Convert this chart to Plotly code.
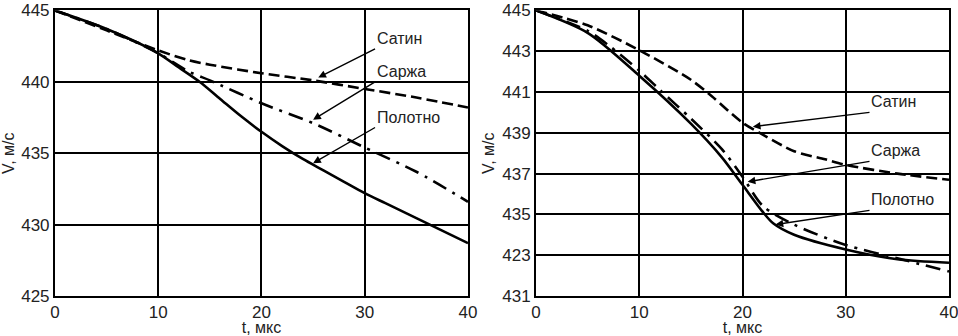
import plotly.graph_objects as go

# ---- Left panel data ----
t_left = [0, 5, 10, 12, 14, 16, 18, 20, 22, 24, 26, 28, 30, 32, 34, 36, 38, 40]
left_polotno = [445, 443.7, 442.0, 441.0, 440.0, 438.8, 437.6, 436.5, 435.5, 434.6, 433.8, 433.0, 432.2, 431.5, 430.8, 430.1, 429.4, 428.7]
t_left_satin = [0, 5, 10, 13, 15, 20, 25, 30, 35, 40]
left_satin = [445, 443.6, 442.2, 441.5, 441.2, 440.6, 440.1, 439.5, 438.9, 438.2]
t_left_sarzha = [0, 5, 10, 13, 15, 20, 25, 30, 35, 40]
left_sarzha = [445, 443.7, 442.0, 440.7, 440.1, 438.5, 437.1, 435.4, 433.7, 431.6]

# ---- Right panel data ----
t_right = [0, 5, 10, 15, 18, 20, 22, 23, 25, 30, 35, 40]
right_polotno = [445, 443.9, 441.8, 439.45, 437.8, 436.45, 435.1, 434.55, 434.0, 433.28, 432.8, 432.63]
t_right_satin = [0, 5, 10, 15, 17, 20, 22, 25, 28, 30, 35, 40]
right_satin = [445, 444.27, 443.05, 441.6, 440.8, 439.5, 438.9, 438.1, 437.7, 437.43, 437.0, 436.7]
t_right_sarzha = [0, 5, 7, 10, 12, 15, 18, 20, 22, 25, 30, 35, 40]
right_sarzha = [445, 444.0, 443.3, 442.05, 441.1, 439.7, 438.2, 436.85, 435.4, 434.5, 433.5, 432.85, 432.2]

x_ticks = [0, 10, 20, 30, 40]
left_y_ticks = [425, 430, 435, 440, 445]
right_y_vals = [431, 433, 435, 437, 439, 441, 443, 445]
right_y_text = ["431", "423", "435", "437", "439", "441", "443", "445"]

labels = ["Сатин", "Саржа", "Полотно"]

FONT = "Liberation Sans, Arial, sans-serif"
LW = 2.6
DASH = "11px,5px"
DASHDOT = "15px,7px,3px,7px"

fig = go.Figure()

def add(x, y, dash, xa, ya):
    fig.add_trace(go.Scatter(x=x, y=y, mode="lines",
                             line=dict(color="black", width=LW, dash=dash, shape="spline", smoothing=0.8),
                             xaxis=xa, yaxis=ya, showlegend=False, hoverinfo="skip"))

add(t_left, left_polotno, "solid", "x", "y")
add(t_left_satin, left_satin, DASH, "x", "y")
add(t_left_sarzha, left_sarzha, DASHDOT, "x", "y")
add(t_right, right_polotno, "solid", "x2", "y2")
add(t_right_satin, right_satin, DASH, "x2", "y2")
add(t_right_sarzha, right_sarzha, DASHDOT, "x2", "y2")

ydom = [0.119, 0.969]
axis_common = dict(showline=True, linecolor="black", linewidth=2, mirror=True,
                   showgrid=True, gridcolor="black", gridwidth=1.5, zeroline=False,
                   ticks="", automargin=False, ticklabeloverflow="allow",
                   tickfont=dict(family=FONT, size=17, color="#222"))

fig.update_layout(
    width=958, height=336,
    margin=dict(l=0, r=0, t=0, b=0),
    paper_bgcolor="white", plot_bgcolor="white",
    font=dict(family=FONT, color="#222"),
    xaxis=dict(domain=[0.0574, 0.4885], range=[0, 40], tickvals=x_ticks, anchor="y",
               title=dict(text="t, мкс", font=dict(size=16), standoff=0), **axis_common),
    yaxis=dict(domain=ydom, range=[425, 445], tickvals=left_y_ticks, anchor="x",
               title=dict(text="V, м/с", font=dict(size=16), standoff=4), **axis_common),
    xaxis2=dict(domain=[0.5595, 0.9906], range=[0, 40], tickvals=x_ticks, anchor="y2",
                title=dict(text="t, мкс", font=dict(size=16), standoff=0), **axis_common),
    yaxis2=dict(domain=ydom, range=[431, 445], tickvals=right_y_vals, ticktext=right_y_text, anchor="x2",
                title=dict(text="V, м/с", font=dict(size=16), standoff=4), **axis_common),
)

# annotations: (label, arrow head x, y, tail x, y)
left_ann = [(labels[0], 25.5, 440.3, 31.0, 442.3),
            (labels[1], 25.0, 437.35, 31.0, 440.0),
            (labels[2], 25.0, 434.3, 31.0, 436.8)]
right_ann = [(labels[0], 21.0, 439.3, 32.3, 440.0),
             (labels[1], 20.5, 436.6, 32.3, 437.6),
             (labels[2], 23.2, 434.5, 32.3, 435.2)]

for xr, yr, anns in (("x", "y", left_ann), ("x2", "y2", right_ann)):
    for (txt, x, y, ax, ay) in anns:
        fig.add_annotation(x=x, y=y, ax=ax, ay=ay, xref=xr, yref=yr, axref=xr, ayref=yr,
                           text=txt, showarrow=True, arrowhead=2, arrowsize=1.1, arrowwidth=1.4,
                           arrowcolor="black", xanchor="left", yanchor="bottom",
                           font=dict(family=FONT, size=16, color="#222"))

fig.write_html("out.html", config={"displayModeBar": False},
               post_script="document.body.style.margin='0';document.body.style.overflow='hidden';")
